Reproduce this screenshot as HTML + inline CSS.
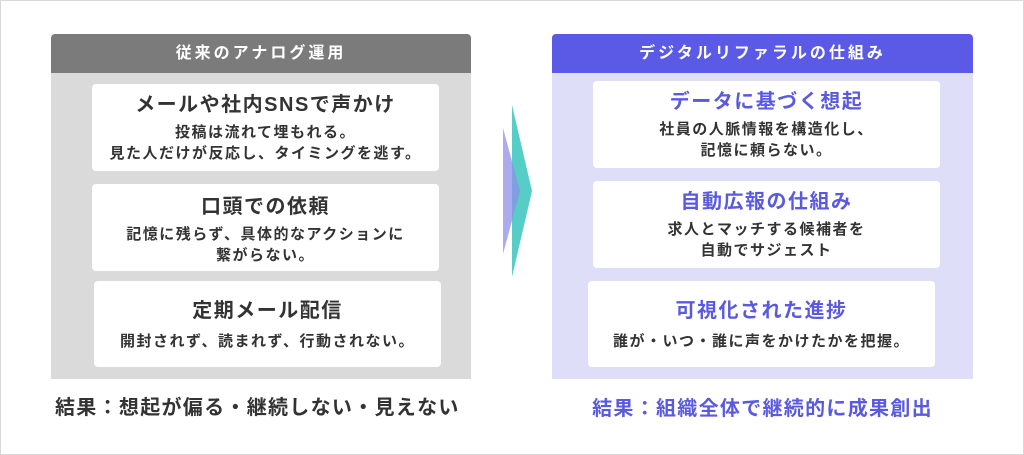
<!DOCTYPE html>
<html><head><meta charset="utf-8"><style>
body{margin:0;width:1024px;height:455px;background:#fff;position:relative;overflow:hidden;font-family:"Liberation Sans","Noto Sans CJK JP",sans-serif;font-weight:bold}
.frame{position:absolute;left:0;top:0;width:1022px;height:453px;border:1px solid #d8d8d8}
.hdr{position:absolute;height:39px;line-height:39px;color:#fff;text-align:center;font-size:16px;letter-spacing:3px;border-radius:4px 4px 0 0}
.body{position:absolute;}
.card{position:absolute;background:#fff;border-radius:4px;text-align:center;color:#333}
.t{font-size:20px;margin-top:8px;line-height:26px;letter-spacing:1.5px}
.s{font-size:15px;line-height:21px;margin-top:4px;letter-spacing:1.5px}
.res{position:absolute;font-size:20px;letter-spacing:1.3px}
</style></head><body>
<div class="frame"></div>
<div class="hdr" style="left:51px;top:34px;width:420px;background:#7b7b7b">従来のアナログ運用</div>
<div class="body" style="left:51px;top:73px;width:420px;height:306px;background:#dadada"></div>
<div class="card" style="left:92px;top:84px;width:347px;height:87px"><div class="t">メールや社内SNSで声かけ</div><div class="s">投稿は流れて埋もれる。<br>見た人だけが反応し、タイミングを逃す。</div></div>
<div class="card" style="left:92px;top:184px;width:347px;height:87px"><div class="t" style="margin-top:10px">口頭での依頼</div><div class="s">記憶に残らず、具体的なアクションに<br>繋がらない。</div></div>
<div class="card" style="left:94px;top:281px;width:347px;height:86px"><div class="t" style="margin-top:17px">定期メール配信</div><div class="s" style="margin-top:7px">開封されず、読まれず、行動されない。</div></div>
<div class="res" style="left:55px;top:391px;color:#333">結果：想起が偏る・継続しない・見えない</div>

<svg style="position:absolute;left:0;top:0" width="1024" height="455">
<polygon points="512,105 532,191 512,277" fill="#56cdc6"/>
<polygon points="503,128 520,191 503,254" fill="#8f8fe8" opacity="0.75"/>
</svg>

<div class="hdr" style="left:552px;top:34px;width:421px;background:#5a5ae6">デジタルリファラルの仕組み</div>
<div class="body" style="left:552px;top:73px;width:421px;height:306px;background:#dedef9"></div>
<div class="card" style="left:593px;top:81px;width:347px;height:87px"><div class="t" style="color:#5a5ae0">データに基づく想起</div><div class="s">社員の人脈情報を構造化し、<br>記憶に頼らない。</div></div>
<div class="card" style="left:593px;top:181px;width:347px;height:87px"><div class="t" style="color:#5a5ae0">自動広報の仕組み</div><div class="s">求人とマッチする候補者を<br>自動でサジェスト</div></div>
<div class="card" style="left:588px;top:281px;width:347px;height:86px"><div class="t" style="color:#5a5ae0;margin-top:17px">可視化された進捗</div><div class="s" style="margin-top:7px">誰が・いつ・誰に声をかけたかを把握。</div></div>
<div class="res" style="left:552px;width:421px;text-align:center;top:392px;color:#5a5ae0">結果：組織全体で継続的に成果創出</div>
</body></html>
